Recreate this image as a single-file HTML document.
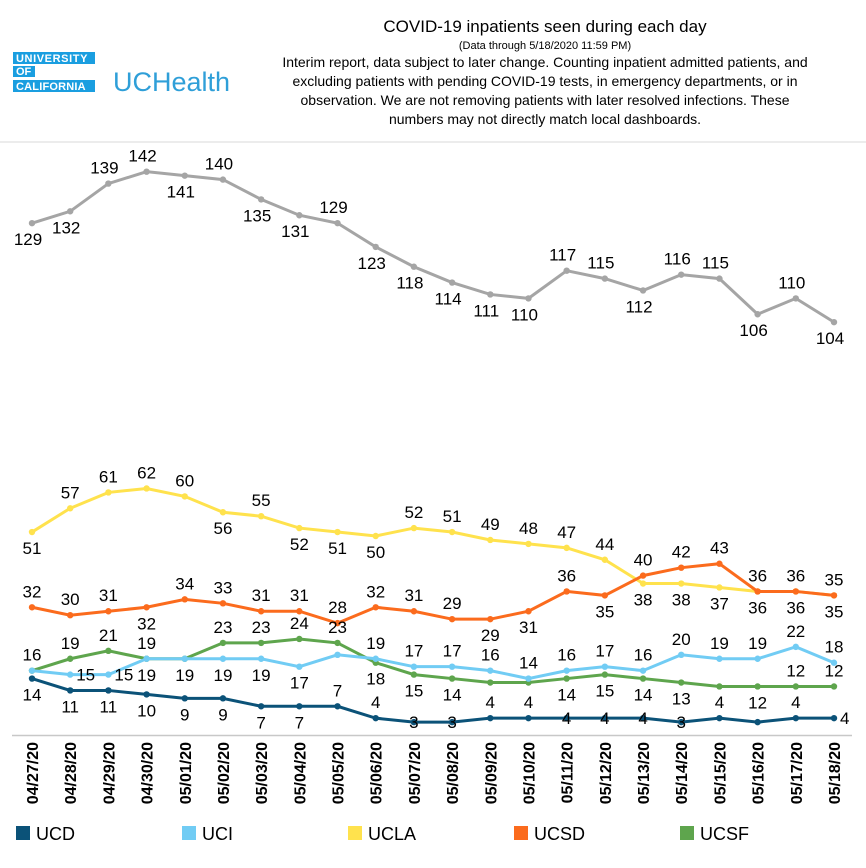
<!DOCTYPE html>
<html><head><meta charset="utf-8"><style>
body{margin:0;background:#fff;font-family:"Liberation Sans",Arial,sans-serif;}
#wrap{position:relative;width:866px;height:868px;overflow:hidden;}
</style></head><body>
<div id="wrap">
<svg id="chart" width="866" height="868" style="position:absolute;left:0;top:0">
  <g>
    <rect x="13" y="52" width="82" height="12" fill="#1a9ee0"/>
    <rect x="13" y="66" width="22" height="11" fill="#1a9ee0"/>
    <rect x="13" y="80" width="82" height="12" fill="#1a9ee0"/>
    <text x="16" y="62" fill="#fff" font-size="11" font-weight="bold" letter-spacing="0.6">UNIVERSITY</text>
    <text x="16" y="75" fill="#fff" font-size="11" font-weight="bold">OF</text>
    <text x="16" y="90" fill="#fff" font-size="11" font-weight="bold" letter-spacing="0.2">CALIFORNIA</text>
    <text x="113" y="91" fill="#2f9fd8" font-size="27">UCHealth</text>
  </g>
  <text x="545" y="32" text-anchor="middle" font-size="17" fill="#000">COVID-19 inpatients seen during each day</text>
  <text x="545" y="49" text-anchor="middle" font-size="11" fill="#000">(Data through 5/18/2020 11:59 PM)</text>
  <g font-size="14" text-anchor="middle" fill="#000">
    <text x="545" y="67">Interim report, data subject to later change. Counting inpatient admitted patients, and</text>
    <text x="545" y="86">excluding patients with pending COVID-19 tests, in emergency departments, or in</text>
    <text x="545" y="105">observation. We are not removing patients with later resolved infections. These</text>
    <text x="545" y="124">numbers may not directly match local dashboards.</text>
  </g>
  <line x1="0" y1="142" x2="866" y2="142" stroke="#d9d9d9" stroke-width="1"/>
  <line x1="12" y1="735.5" x2="852" y2="735.5" stroke="#c8c8c8" stroke-width="1.5"/>
  <g id="series"></g>
  <g id="xlabels"></g>
  <g id="legend"></g>
</svg>
</div>
<script>
const dates=["04/27/20","04/28/20","04/29/20","04/30/20","05/01/20","05/02/20","05/03/20","05/04/20","05/05/20","05/06/20","05/07/20","05/08/20","05/09/20","05/10/20","05/11/20","05/12/20","05/13/20","05/14/20","05/15/20","05/16/20","05/17/20","05/18/20"];
const totalVals=[129,132,139,142,141,140,135,131,129,123,118,114,111,110,117,115,112,116,115,106,110,104];
const uclaVals=[51,57,61,62,60,56,55,52,51,50,52,51,49,48,47,44,38,38,37,36,36,35];
const ucsdVals=[32,30,31,32,34,33,31,31,28,32,31,29,29,31,36,35,40,42,43,36,36,35];
const uciVals=[16,15,15,19,19,19,19,17,20,19,17,17,16,14,16,17,16,20,19,19,22,18];
const ucsfVals=[16,19,21,19,19,23,23,24,23,18,15,14,13,13,14,15,14,13,12,12,12,12];
const ucdVals=[14,11,11,10,9,9,7,7,7,4,3,3,4,4,4,4,4,3,4,3,4,4];
const totalDirs="bbaababbabbbbbaabaabab";
const uclaDirs="baaaababbbaaaaaabbbbba";
const ucsdDirs="aaabaaaaaaaabbabaaaaab";
const uciDirs="arrabbbbnaaaaaaaaaaaaa";
const ucsfDirs="naabnaaaabbbnnbbbbnbaa";
const ucdDirs="bbbbbbbbaaccaaccccanar";
const seriesList=[
 {name:"total",vals:totalVals,dirs:totalDirs,color:"#a5a5a5"},
 {name:"ucla",vals:uclaVals,dirs:uclaDirs,color:"#ffe24d"},
 {name:"ucsd",vals:ucsdVals,dirs:ucsdDirs,color:"#fb6b1d"},
 {name:"ucsf",vals:ucsfVals,dirs:ucsfDirs,color:"#5ea54d"},
 {name:"uci",vals:uciVals,dirs:uciDirs,color:"#71ccf4"},
 {name:"ucd",vals:ucdVals,dirs:ucdDirs,color:"#0b5278"}
];
const legendNames=["UCD","UCI","UCLA","UCSD","UCSF"];
const legendColors=["#0b5278","#71ccf4","#ffe24d","#fb6b1d","#5ea54d"];
const NS="http://www.w3.org/2000/svg";
const x0=32,x1=834,yZero=734,pxPerUnit=3.96;
function xScale(i){return x0+(x1-x0)*i/(dates.length-1);}
function yScale(v){return yZero-v*pxPerUnit;}
const gS=document.getElementById("series");
seriesList.forEach(s=>{
  const g=document.createElementNS(NS,"g");
  
  
  const pl=document.createElementNS(NS,"polyline");
  pl.setAttribute("points",s.vals.map((v,i)=>xScale(i)+","+yScale(v)).join(" "));
  pl.setAttribute("fill","none");pl.setAttribute("stroke",s.color);pl.setAttribute("stroke-width","3");
  
  
  g.appendChild(pl);
  s.vals.forEach((v,i)=>{
    const c=document.createElementNS(NS,"circle");
    c.setAttribute("cx",xScale(i));c.setAttribute("cy",yScale(v));c.setAttribute("r","3.2");c.setAttribute("fill",s.color);
    
    
    g.appendChild(c);
    const d=s.dirs[i];
    if(d==="n")return;
    const t=document.createElementNS(NS,"text");
    let tx=xScale(i),ty=yScale(v);
    if(d==="a")ty-=16;else if(d==="b")ty+=16;else if(d==="r")tx+=6;
    if(s.name==="total")tx-=4;
    t.setAttribute("x",tx);t.setAttribute("y",ty+6);
    t.setAttribute("text-anchor",d==="r"?"start":"middle");
    t.setAttribute("font-size","17");t.setAttribute("fill","#000");
    t.textContent=v;
    
    
    g.appendChild(t);
  });
  gS.appendChild(g);
});
const gX=document.getElementById("xlabels");
dates.forEach((d,i)=>{
  const t=document.createElementNS(NS,"text");
  const x=xScale(i)+6,y=742;
  t.setAttribute("transform","translate("+x+","+y+") rotate(-90)");
  t.setAttribute("text-anchor","end");t.setAttribute("font-size","16");t.setAttribute("font-weight","bold");t.setAttribute("fill","#000");
  t.textContent=d;
  
  
  gX.appendChild(t);
});
const gL=document.getElementById("legend");
legendNames.forEach((n,i)=>{
  const g=document.createElementNS(NS,"g");
  
  
  const lx=16+i*166;
  const r=document.createElementNS(NS,"rect");
  r.setAttribute("x",lx);r.setAttribute("y",826);r.setAttribute("width",14);r.setAttribute("height",14);r.setAttribute("fill",legendColors[i]);
  g.appendChild(r);
  const t=document.createElementNS(NS,"text");
  t.setAttribute("x",lx+20);t.setAttribute("y",840);t.setAttribute("font-size","18");t.setAttribute("fill","#000");
  t.textContent=n;
  g.appendChild(t);
  gL.appendChild(g);
});
</script>
</body></html>
